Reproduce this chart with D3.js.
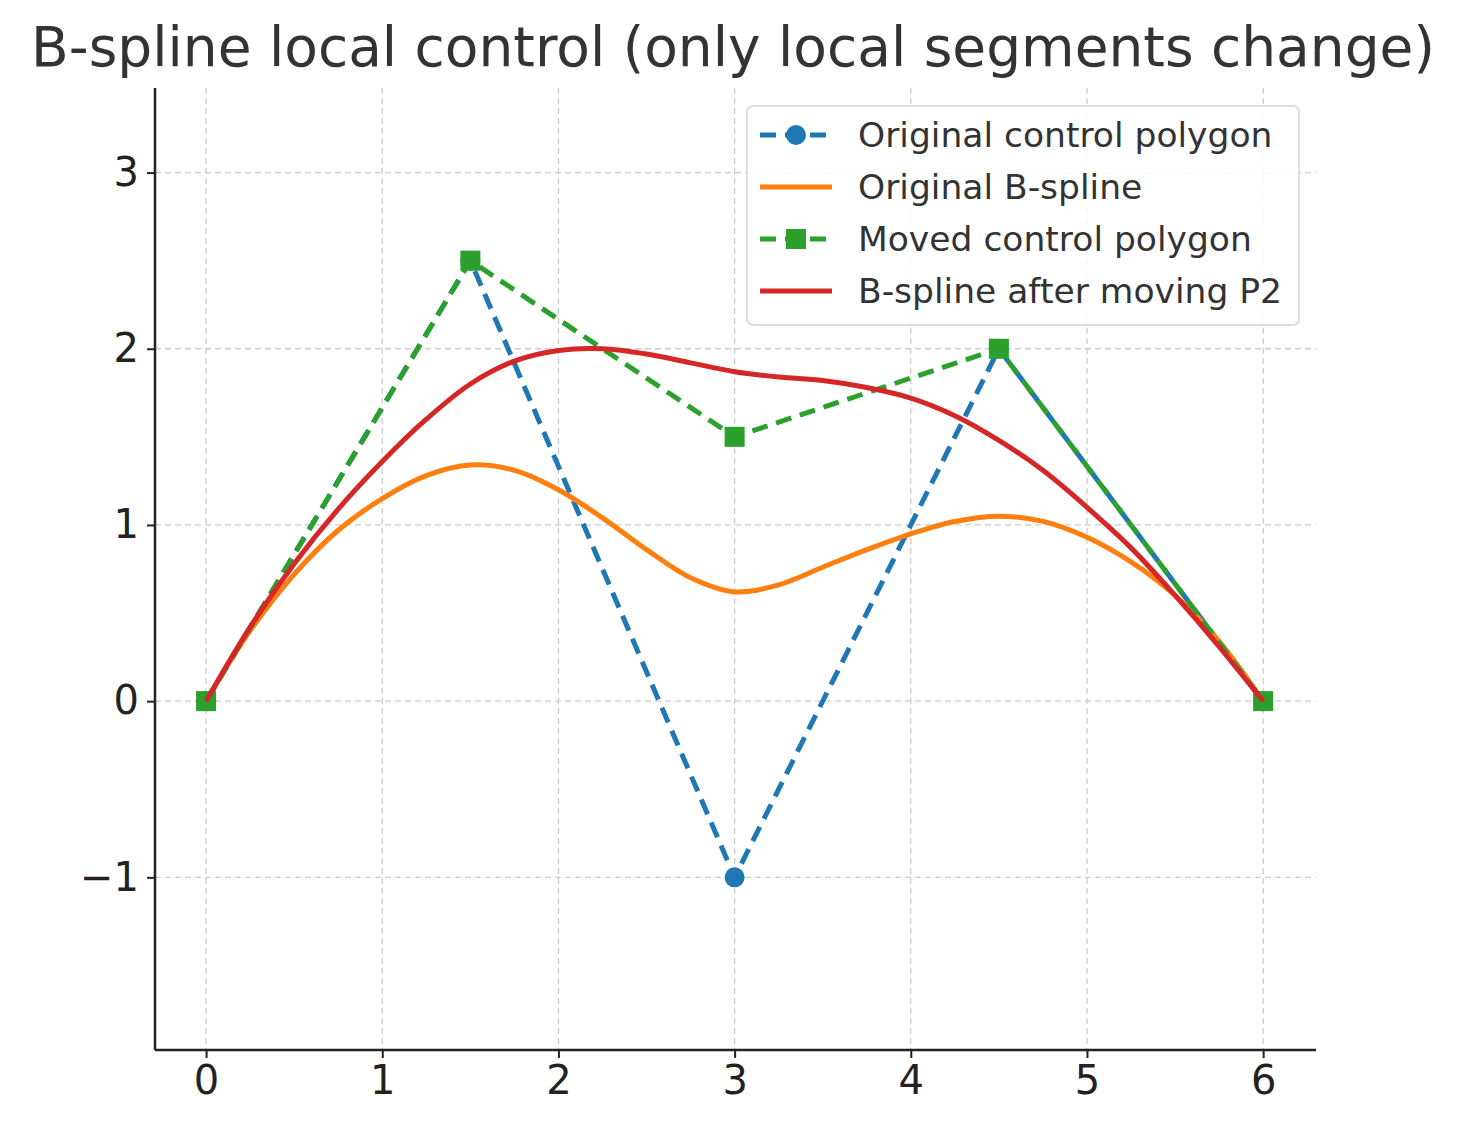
<!DOCTYPE html>
<html><head><meta charset="utf-8">
<script src="https://cdn.jsdelivr.net/npm/d3@7"></script>
<style>body{margin:0;background:#fff}text{font-family:"DejaVu Sans",sans-serif}</style>
</head><body>
<script>
// control polygons
const origX = [0, 1.5, 3, 4.5, 6];
const origY = [0, 2.5, -1, 2, 0];
const movedY = [0, 2.5, 1.5, 2, 0];
// curves
const curveX = [0, 0.25, 0.5, 0.75, 1, 1.25, 1.5, 1.75, 2, 2.25, 2.5, 2.75, 3, 3.25, 3.5, 3.75, 4, 4.25, 4.5, 4.75, 5, 5.25, 5.5, 5.75, 6];
const origCurve = [0, 0.4, 0.72, 0.97, 1.15, 1.28, 1.34, 1.31, 1.2, 1.04, 0.86, 0.7, 0.62, 0.66, 0.76, 0.86, 0.95, 1.02, 1.05, 1.02, 0.93, 0.79, 0.6, 0.34, 0];
const movedCurve = [0, 0.42, 0.78, 1.09, 1.36, 1.6, 1.8, 1.93, 1.99, 2.0, 1.97, 1.92, 1.87, 1.84, 1.82, 1.78, 1.72, 1.62, 1.48, 1.31, 1.1, 0.87, 0.6, 0.31, 0];
const xTicks = [0, 1, 2, 3, 4, 5, 6];
const yTicks = [-1, 0, 1, 2, 3];

const W = 1470, H = 1129;
const m = {l: 155, r: 1316, t: 88, b: 1050};
const svg = d3.select('body').append('svg').attr('width', W).attr('height', H);
const x = d3.scaleLinear().domain([-0.29, 6.3]).range([m.l, m.r]);
const y = d3.scaleLinear().domain([-1.98, 3.48]).range([m.b, m.t]);

// grid
svg.append('g').selectAll('line').data(xTicks).enter().append('line')
  .attr('x1', d => x(d)).attr('x2', d => x(d)).attr('y1', m.t).attr('y2', m.b)
  .attr('stroke', '#ccc').attr('stroke-dasharray', '6,4').attr('stroke-width', 1.3);
svg.append('g').selectAll('line').data(yTicks).enter().append('line')
  .attr('y1', d => y(d)).attr('y2', d => y(d)).attr('x1', m.l).attr('x2', m.r)
  .attr('stroke', '#ccc').attr('stroke-dasharray', '6,4').attr('stroke-width', 1.3);

// axes
const ax = svg.append('g').attr('transform', `translate(0,${m.b})`)
  .call(d3.axisBottom(x).tickValues(xTicks).tickSize(8).tickPadding(8).tickFormat(d3.format('d')));
const ay = svg.append('g').attr('transform', `translate(${m.l},0)`)
  .call(d3.axisLeft(y).tickValues(yTicks).tickSize(8).tickPadding(8).tickFormat(d => d < 0 ? '\u2212' + (-d) : d));
[ax, ay].forEach(g => {
  g.selectAll('text').attr('font-size', 40).attr('fill', '#222');
  g.selectAll('line').attr('stroke', '#222').attr('stroke-width', 2);
  g.select('.domain').remove();
});
svg.append('line').attr('x1', m.l).attr('x2', m.l).attr('y1', m.t).attr('y2', m.b).attr('stroke', '#222').attr('stroke-width', 2.5);
svg.append('line').attr('x1', m.l).attr('x2', m.r).attr('y1', m.b).attr('y2', m.b).attr('stroke', '#222').attr('stroke-width', 2.5);

const line = d3.line().x(d => x(d[0])).y(d => y(d[1]));
const smooth = d3.line().x(d => x(d[0])).y(d => y(d[1])).curve(d3.curveCatmullRom);

svg.append('path').datum(origX.map((v, i) => [v, origY[i]])).attr('d', line)
  .attr('fill', 'none').attr('stroke', '#1f77b4').attr('stroke-width', 5).attr('stroke-dasharray', '16,9');
svg.selectAll('.oc').data(origX).enter().append('circle')
  .attr('cx', (d) => x(d)).attr('cy', (d, i) => y(origY[i])).attr('r', 10).attr('fill', '#1f77b4');
svg.append('path').datum(curveX.map((v, i) => [v, origCurve[i]])).attr('d', smooth)
  .attr('fill', 'none').attr('stroke', '#ff7f0e').attr('stroke-width', 5);
svg.append('path').datum(origX.map((v, i) => [v, movedY[i]])).attr('d', line)
  .attr('fill', 'none').attr('stroke', '#2ca02c').attr('stroke-width', 5).attr('stroke-dasharray', '16,9');
svg.selectAll('.ms').data(origX).enter().append('rect')
  .attr('x', d => x(d) - 10).attr('y', (d, i) => y(movedY[i]) - 10).attr('width', 20).attr('height', 20).attr('fill', '#2ca02c');
svg.append('path').datum(curveX.map((v, i) => [v, movedCurve[i]])).attr('d', smooth)
  .attr('fill', 'none').attr('stroke', '#d62728').attr('stroke-width', 5);

// title
svg.append('text').attr('x', 733).attr('y', 66).attr('text-anchor', 'middle')
  .attr('font-size', 55).attr('fill', '#333').text('B-spline local control (only local segments change)');

// legend
const leg = [
  {label: 'Original control polygon', c: '#1f77b4', dash: true, mark: 'circle'},
  {label: 'Original B-spline', c: '#ff7f0e'},
  {label: 'Moved control polygon', c: '#2ca02c', dash: true, mark: 'square'},
  {label: 'B-spline after moving P2', c: '#d62728'}
];
const lg = svg.append('g');
lg.append('rect').attr('x', 747).attr('y', 106).attr('width', 552).attr('height', 219).attr('rx', 6)
  .attr('fill', 'rgba(255,255,255,0.85)').attr('stroke', '#ddd').attr('stroke-width', 2);
leg.forEach((d, i) => {
  const yy = 135 + i * 52;
  lg.append('line').attr('x1', 760).attr('x2', 832).attr('y1', yy).attr('y2', yy)
    .attr('stroke', d.c).attr('stroke-width', 5).attr('stroke-dasharray', d.dash ? '16,9' : null);
  if (d.mark === 'circle') lg.append('circle').attr('cx', 796).attr('cy', yy).attr('r', 10).attr('fill', d.c);
  if (d.mark === 'square') lg.append('rect').attr('x', 786).attr('y', yy - 10).attr('width', 20).attr('height', 20).attr('fill', d.c);
  lg.append('text').attr('x', 858).attr('y', yy + 12).attr('font-size', 34.5).attr('fill', '#333').text(d.label);
});
</script>
</body></html>
